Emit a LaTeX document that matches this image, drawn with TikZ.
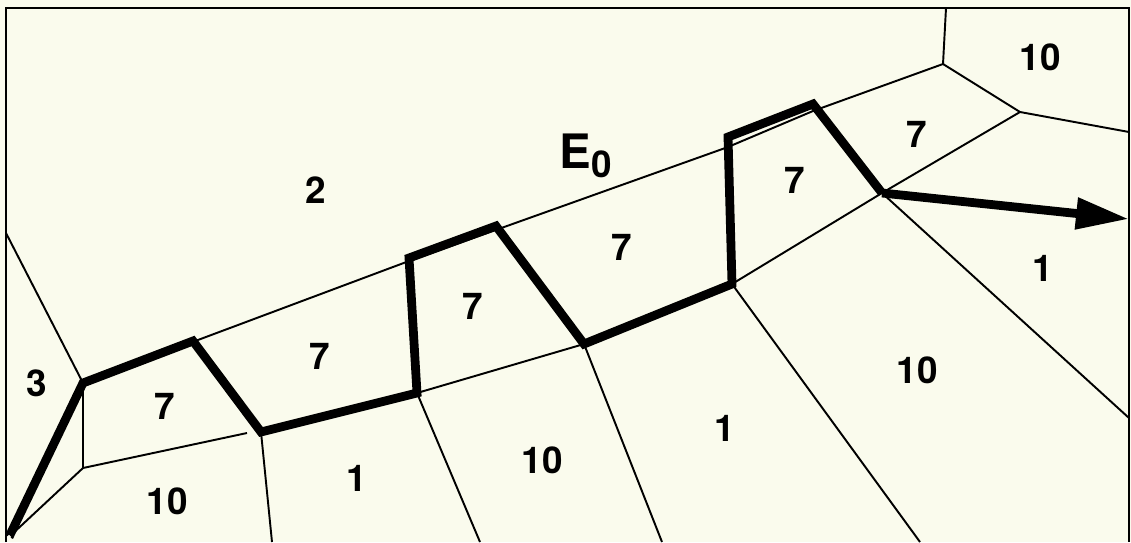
\documentclass[tikz,border=0pt]{standalone}
\usepackage{fontspec}
\setmainfont{TeX Gyre Heros}
\usepackage{tikz}
\usetikzlibrary{arrows.meta}
\definecolor{paper}{RGB}{250,251,237}

\begin{document}
\begin{tikzpicture}[x=0.02cm,y=-0.02cm,
		edge/.style={line width=1.1pt},
		walk/.style={line width=5pt, line join=miter, line cap=butt},
		lbl/.style={font=\fontsize{21}{24}\selectfont\bfseries, inner sep=0pt}]
		\fill[paper] (0,0) rectangle (1131,542);
		\useasboundingbox (0,0) rectangle (1131,542);

		% --- frame ---
		\coordinate (fl) at (6,542);
		\coordinate (ftl) at (6,8);
		\coordinate (ftr) at (1129,8);
		\coordinate (fr) at (1129,542);
		\draw[line width=1.4pt] (fl) -- (ftl) -- (ftr) -- (fr);

		% --- vertices ---
		\coordinate (p0) at (9,537);
		\coordinate (p1) at (83,383);
		\coordinate (p2) at (193,341);
		\coordinate (p3) at (261,432);
		\coordinate (p4) at (417,393);
		\coordinate (p5) at (409,258);
		\coordinate (p6) at (496,226);
		\coordinate (p7) at (584,344);
		\coordinate (p8) at (732,284);
		\coordinate (p9) at (728,137);
		\coordinate (p10) at (813,104);
		\coordinate (p11) at (882,193);
		\coordinate (v) at (83,468);
		\coordinate (q1) at (943,64);
		\coordinate (q2) at (1020,112);
		\coordinate (t0) at (409,261);
		\coordinate (t1) at (728,147);
		\coordinate (t2) at (813,111);

		% --- cell edges ---
		\draw[edge] (p1) -- (t0) -- (t1) -- (t2) -- (q1);
		\draw[edge] (6,233) -- (p1) -- (v) -- (p0);
		\draw[edge] (v) -- (247,433);
		\draw[edge] (p3) -- (272,542);
		\draw[edge] (p4) -- (480,542);
		\draw[edge] (p4) -- (p7) -- (662,542);
		\draw[edge] (p8) -- (920,542);
		\draw[edge] (p8) -- (p11) -- (q2) -- (q1) -- (946,8);
		\draw[edge] (q2) -- (1129,132);
		\draw[edge] (p11) -- (1129,418);

		% --- thick path and arrow ---
		\draw[walk] (p0) -- (p1) -- (p2) -- (p3) -- (p4) -- (p5) -- (p6) -- (p7)
			-- (p8) -- (p9) -- (p10) -- (p11);
		\coordinate (tip) at (1129,219);
		\draw[walk, -{Triangle[length=1.06cm, width=0.6cm]}] (p11) -- (tip);
		\draw[fill=paper, line width=0.4pt, draw=paper] (p0) circle (1.6);

		% --- labels ---
		\node[lbl] (c3) at (37,383) {3};
		\node[lbl] (c7a) at (165,406) {7};
		\node[lbl] (c10a) at (167,501) {10};
		\node[lbl] (c2) at (316,190) {2};
		\node[lbl] (c7b) at (320,356) {7};
		\node[lbl] (c7c) at (473,306) {7};
		\node[lbl] (c1a) at (357,478) {1};
		\node[lbl] (c10b) at (542,460) {10};
		\node[lbl] (c7d) at (622,247) {7};
		\node[lbl] (c1b) at (725,428) {1};
		\node[lbl] (c7e) at (795,180) {7};
		\node[lbl] (c7f) at (917,134) {7};
		\node[lbl] (c10c) at (917,370) {10};
		\node[lbl] (c10d) at (1040,57) {10};
		\node[lbl] (c1c) at (1043,268) {1};
		\node[inner sep=0pt, anchor=base west] (e0) at (559,168)
			{\bfseries\fontsize{27}{30}\selectfont E\raisebox{-5.6pt}{\fontsize{21}{24}\selectfont 0}};
	\end{tikzpicture}
\end{document}
